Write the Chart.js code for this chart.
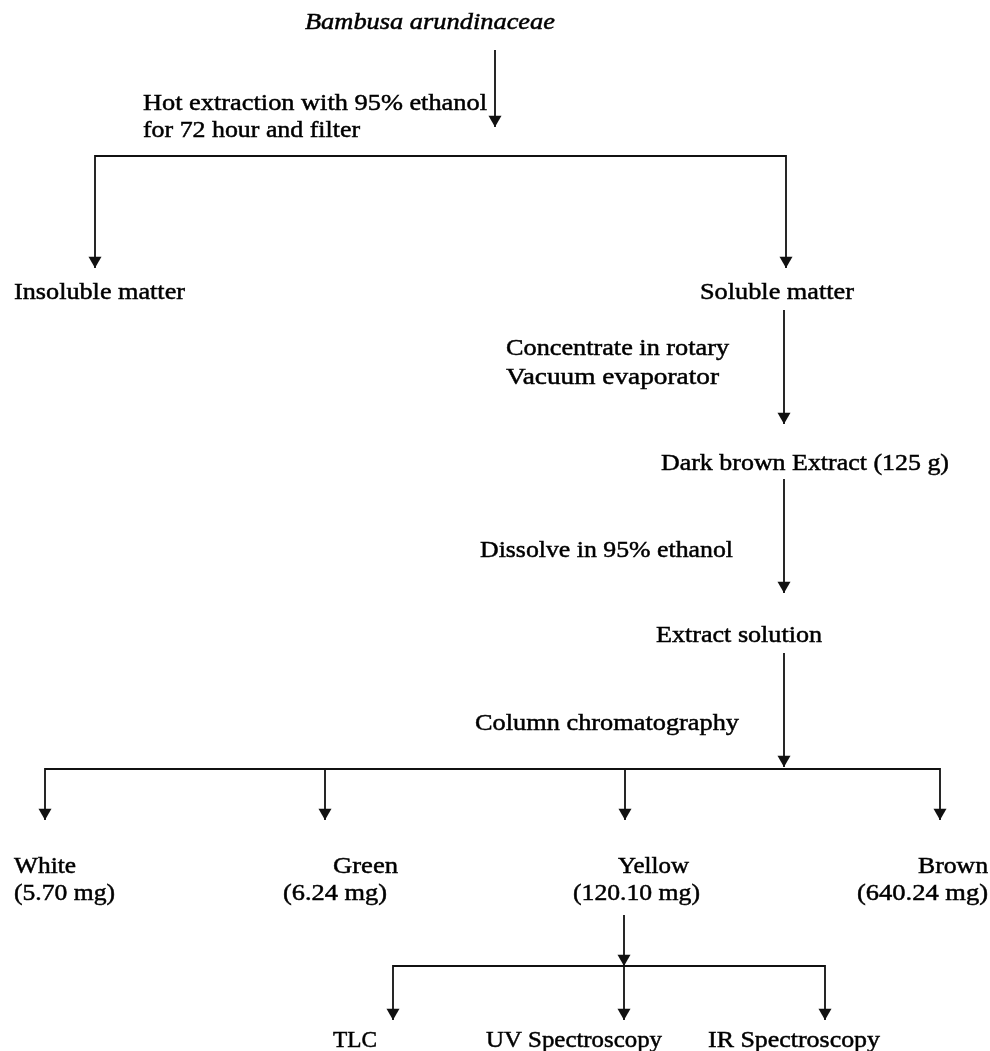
<!DOCTYPE html>
<html>
<head>
<meta charset="utf-8">
<script src="https://cdn.jsdelivr.net/npm/chart.js@4/dist/chart.umd.min.js"></script>
<style>
  html, body { margin: 0; padding: 0; background: #fff; }
  canvas { display: block; }
</style>
</head>
<body>
<canvas id="canvas" width="990" height="1051"></canvas>
<script>
const canvas = document.getElementById('canvas');
const ctx = canvas.getContext('2d');

// node / step texts of the flow
const labels = [
  'Bambusa arundinaceae',
  'Hot extraction with 95% ethanol',
  'for 72 hour and filter',
  'Insoluble matter',
  'Soluble matter',
  'Concentrate in rotary',
  'Vacuum evaporator',
  'Dark brown Extract (125 g)',
  'Dissolve in 95% ethanol',
  'Extract solution',
  'Column chromatography',
  'White',
  '(5.70 mg)',
  'Green',
  '(6.24 mg)',
  'Yellow',
  '(120.10 mg)',
  'Brown',
  '(640.24 mg)',
  'TLC',
  'UV Spectroscopy',
  'IR Spectroscopy',
];

// where each text sits (left edge, middle line) and how wide it runs
const labelX = [305, 143, 143, 14, 700, 506, 506, 661, 480, 656, 475, 14, 14, 333, 283, 618, 573, 918, 857, 333, 486, 708];
const labelY = [22, 103, 130, 292, 292, 348, 377, 463, 550, 635, 723, 866, 893, 866, 893, 866, 893, 866, 893, 1040, 1040, 1040];
const labelW = [250, 344, 217, 171, 154, 223, 213, 288, 253, 166, 264, 62, 101, 65, 104, 71, 127, 70, 131, 44, 176, 172];
const italic = ['Bambusa arundinaceae'];

// connector polylines
const connectors = [
  [[495, 50], [495, 127]],
  [[95, 268], [95, 156], [786, 156], [786, 268]],
  [[784, 310], [784, 424]],
  [[784, 479], [784, 593]],
  [[784, 653], [784, 767]],
  [[45, 820], [45, 769], [940, 769], [940, 820]],
  [[325, 769], [325, 820]],
  [[625, 769], [625, 820]],
  [[624, 915], [624, 1020]],
  [[393, 1020], [393, 966], [825, 966], [825, 1020]],
];

// arrow tips
const arrowX = [495, 95, 786, 784, 784, 784, 45, 325, 625, 940, 624, 393, 624, 825];
const arrowY = [127, 268, 268, 424, 593, 767, 820, 820, 820, 820, 966, 1020, 1020, 1020];

const ARROW_R = 7.5;

const textPlugin = {
  id: 'flowText',
  afterDatasetsDraw(chart) {
    const c = chart.ctx;
    const sx = chart.scales.x;
    const sy = chart.scales.y;
    c.save();
    c.fillStyle = '#000';
    c.strokeStyle = '#000';
    c.lineWidth = 0.5;
    c.textBaseline = 'middle';
    c.textAlign = 'left';
    labels.forEach((txt, i) => {
      c.font = (italic.includes(txt) ? 'italic ' : '') + '24px "Liberation Serif", "DejaVu Serif", serif';
      const px = sx.getPixelForValue(labelX[i]);
      const py = sy.getPixelForValue(labelY[i]);
      const w = c.measureText(txt).width;
      const k = labelW[i] / w;
      c.save();
      c.translate(px, py);
      c.scale(k, 1);
      c.fillText(txt, 0, 1);
      c.strokeText(txt, 0, 1);
      c.restore();
    });
    c.restore();
  },
};

const datasets = connectors.map((seg) => ({
  type: 'scatter',
  data: seg.map((p) => ({ x: p[0], y: p[1] })),
  showLine: true,
  borderColor: '#111',
  borderWidth: 1.8,
  pointRadius: 0,
  fill: false,
  tension: 0,
  clip: false,
  order: 2,
}));

datasets.push({
  type: 'scatter',
  data: arrowX.map((x, i) => ({ x: x, y: arrowY[i] - ARROW_R })),
  pointStyle: 'triangle',
  rotation: 180,
  pointRadius: ARROW_R,
  backgroundColor: '#111',
  borderColor: '#111',
  borderWidth: 0,
  clip: false,
  order: 1,
});

new Chart(ctx, {
  type: 'scatter',
  data: { datasets: datasets },
  options: {
    responsive: false,
    animation: false,
    events: [],
    layout: { padding: 0, autoPadding: false },
    plugins: {
      legend: { display: false },
      tooltip: { enabled: false },
      title: { display: false },
    },
    scales: {
      x: { type: 'linear', min: 0, max: 990, display: false },
      y: { type: 'linear', min: 0, max: 1051, reverse: true, display: false },
    },
  },
  plugins: [textPlugin],
});
</script>
</body>
</html>
